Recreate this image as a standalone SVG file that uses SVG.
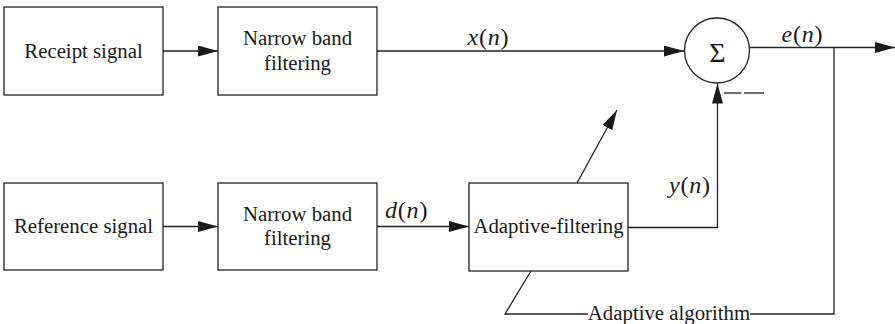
<svg xmlns="http://www.w3.org/2000/svg" width="895" height="324" viewBox="0 0 895 324">
<style>
.box{fill:#fff;stroke:#222;stroke-width:1.3}
.ln{fill:none;stroke:#222;stroke-width:1.3}
.t{font-size:20.8px;fill:#1a1a1a;text-anchor:middle}
.m{font-size:24px;fill:#1a1a1a;letter-spacing:0.8px}
.i{font-style:italic}
</style>
<defs>
<marker id="ah" markerUnits="userSpaceOnUse" markerWidth="20" markerHeight="12" refX="20" refY="5.5" orient="auto">
<path d="M0,0 L20,5.5 L0,11 z" fill="#1a1a1a"/>
</marker>
</defs>
<rect width="895" height="324" fill="#fff"/>
<g id="connectors">
<line class="ln" x1="163" y1="51" x2="218" y2="51" marker-end="url(#ah)"/>
<line class="ln" x1="377" y1="51" x2="684" y2="51" marker-end="url(#ah)"/>
<line class="ln" x1="163" y1="226.5" x2="218" y2="226.5" marker-end="url(#ah)"/>
<line class="ln" x1="377" y1="226.5" x2="469" y2="226.5" marker-end="url(#ah)"/>
<polyline class="ln" points="628,227.5 717.5,227.5 717.5,83.5" marker-end="url(#ah)"/>
<line class="ln" x1="750" y1="47.5" x2="895" y2="47.5" marker-end="url(#ah)"/>
<polyline class="ln" points="834,47.5 834,314 750,314"/>
<polyline class="ln" points="588,314 505,314 531,271"/>
<line class="ln" x1="577" y1="183" x2="617" y2="110" marker-end="url(#ah)"/>
<line class="ln" x1="724" y1="93" x2="741.5" y2="93"/>
<line class="ln" x1="744" y1="93" x2="764" y2="93"/>
</g>
<g font-family="Liberation Serif, Times New Roman, serif">
<g id="receipt">
<rect class="box" x="4" y="7" width="159" height="88"/>
<text class="t" x="83.5" y="58">Receipt signal</text>
</g>
<g id="nbf1">
<rect class="box" x="218" y="7" width="159" height="88"/>
<text class="t" x="297.5" y="45">Narrow band</text>
<text class="t" x="297.5" y="70">filtering</text>
</g>
<g id="reference">
<rect class="box" x="4" y="183" width="159" height="87"/>
<text class="t" x="83.5" y="233">Reference signal</text>
</g>
<g id="nbf2">
<rect class="box" x="218" y="183" width="159" height="87"/>
<text class="t" x="297.5" y="221">Narrow band</text>
<text class="t" x="297.5" y="245">filtering</text>
</g>
<g id="adaptive">
<rect class="box" x="469" y="183" width="159" height="88"/>
<text class="t" x="548.5" y="233">Adaptive-filtering</text>
</g>
<g id="sum">
<circle class="box" cx="717" cy="50.5" r="32.5"/>
<text class="t" x="717.5" y="61.5" style="font-size:28px">Σ</text>
</g>
<g id="labels">
<text class="m" x="467.5" y="44.5"><tspan class="i">x</tspan>(<tspan class="i">n</tspan>)</text>
<text class="m" x="781.5" y="42"><tspan class="i">e</tspan>(<tspan class="i">n</tspan>)</text>
<text class="m" x="385" y="218"><tspan class="i">d</tspan>(<tspan class="i">n</tspan>)</text>
<text class="m" x="669" y="193"><tspan class="i">y</tspan>(<tspan class="i">n</tspan>)</text>
<text class="t" x="669" y="320">Adaptive algorithm</text>
</g>
</g>
</svg>
